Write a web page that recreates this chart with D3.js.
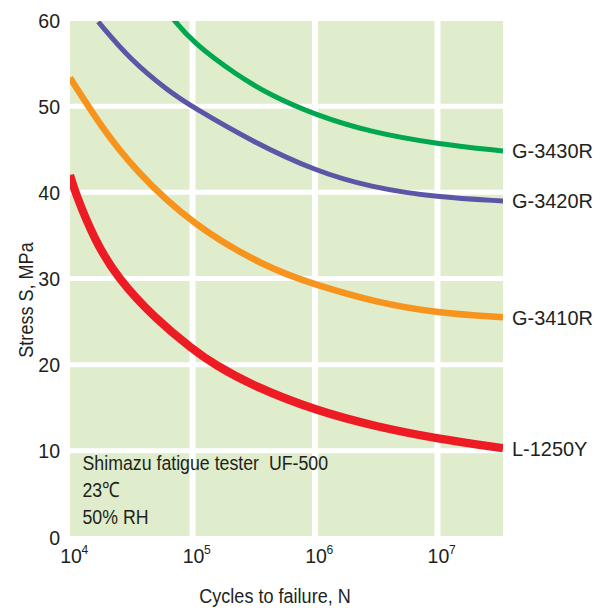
<!DOCTYPE html>
<html>
<head>
<meta charset="utf-8">
<title>Fatigue S-N curves</title>
<script src="https://cdn.jsdelivr.net/npm/d3@7"></script>
<style>
  body { margin: 0; background: #fff; }
  svg text { font-family: "Liberation Sans", Arial, sans-serif; fill: #231f20; }
</style>
</head>
<body>
<div id="chart"></div>
<script>
// cycles to failure (N) and stress (MPa)
const series = ["G-3430R", "G-3420R", "G-3410R", "L-1250Y"];
const colors = ["#00a650", "#5b57a6", "#f7941d", "#ed1c24"];
const widths = [5, 5, 6.5, 8.3];

const cyclesG3430 = [6.8e4, 1e5, 2.3e5, 4.3e5, 1e6, 2.8e6, 1e7, 3.43e7];
const stressG3430 = [60.3, 57.4, 53.6, 51.3, 49.0, 47.0, 45.6, 44.8];
const cyclesG3420 = [1.7e4, 3.1e4, 6.3e4, 1e5, 3.16e5, 1e6, 2.8e6, 1e7, 3.43e7];
const stressG3420 = [59.8, 55.4, 51.8, 49.9, 45.8, 42.5, 40.6, 39.4, 39.0];
const cyclesG3410 = [1e4, 1.8e4, 3.37e4, 1e5, 4.1e5, 1e6, 3.2e6, 1e7, 3.43e7];
const stressG3410 = [53.3, 47.6, 42.6, 36.2, 31.2, 29.3, 27.2, 26.0, 25.5];
const cyclesL1250 = [1e4, 1.1e4, 1.58e4, 2.45e4, 5.0e4, 1e5, 1.51e5, 3.16e5, 1e6, 3.16e6, 1e7, 3.43e7];
const stressL1250 = [42.0, 40.0, 34.5, 30.0, 25.3, 21.8, 20.0, 17.5, 14.7, 12.8, 11.4, 10.3];

const xTicks = [1e4, 1e5, 1e6, 1e7];
const yTicks = [0, 10, 20, 30, 40, 50, 60];
const notes = ["Shimazu fatigue tester\u00a0\u00a0UF-500", "23\u2103", "50% RH"];

const cycles = [cyclesG3430, cyclesG3420, cyclesG3410, cyclesL1250];
const stress = [stressG3430, stressG3420, stressG3410, stressL1250];

const W = 607, H = 608;
const svg = d3.select("#chart").append("svg")
  .attr("width", W).attr("height", H);

const x = d3.scaleLog().domain([1e4, Math.pow(10, 7.535)]).range([70, 503]);
const y = d3.scaleLinear().domain([0, 60]).range([537, 20]);

const [x0, x1] = x.range();
const yTop = 21, yBot = 536;

// condensed look: Liberation Sans squeezed sideways
function label(g, px, py, str, sx, anchor) {
  return g.append("text")
    .attr("transform", `translate(${px},${py}) scale(${sx},1)`)
    .attr("text-anchor", anchor || "start")
    .style("font-size", "21px")
    .text(str);
}

svg.append("defs").append("clipPath").attr("id", "plot")
  .append("rect").attr("x", x0).attr("y", yTop)
  .attr("width", x1 - x0).attr("height", yBot - yTop);

svg.append("rect")
  .attr("x", x0).attr("y", yTop)
  .attr("width", x1 - x0).attr("height", yBot - yTop)
  .attr("fill", "#dfedcc");

// white grid
const grid = svg.append("g").attr("clip-path", "url(#plot)");
grid.selectAll("line.h").data(yTicks.slice(1, -1)).join("line")
  .attr("x1", x0).attr("x2", x1)
  .attr("y1", d => y(d)).attr("y2", d => y(d))
  .attr("stroke", "#fff").attr("stroke-width", 5);
grid.selectAll("line.v").data(xTicks.slice(1)).join("line")
  .attr("y1", yTop).attr("y2", yBot)
  .attr("x1", d => x(d)).attr("x2", d => x(d))
  .attr("stroke", "#fff").attr("stroke-width", 6);

// curves
const line = d3.line()
  .x(d => x(d[0])).y(d => y(d[1]))
  .curve(d3.curveBasis);

const curves = svg.append("g").attr("clip-path", "url(#plot)");
series.forEach((name, i) => {
  const pts = cycles[i].map((c, j) => [c, stress[i][j]]);
  curves.append("path")
    .attr("d", line(pts))
    .attr("fill", "none")
    .attr("stroke", colors[i])
    .attr("stroke-width", widths[i]);
  const last = pts[pts.length - 1];
  label(svg, x1 + 9, y(last[1]) + 7.5, name, 0.95);
});

// y axis
const yAxis = svg.append("g")
  .attr("transform", `translate(${x0 - 10},0)`)
  .call(d3.axisLeft(y).tickValues(yTicks).tickSize(0).tickPadding(0));
yAxis.select(".domain").remove();
yAxis.selectAll(".tick text").remove();
yAxis.selectAll(".tick").each(function(d) {
  label(d3.select(this), 0, 7, d, 0.93, "end");
});

// x axis with powers of ten
const xAxis = svg.append("g")
  .attr("transform", `translate(0,${yBot})`)
  .call(d3.axisBottom(x).tickValues(xTicks).tickSize(0).tickPadding(0));
xAxis.select(".domain").remove();
xAxis.selectAll(".tick text").remove();
xAxis.selectAll(".tick").each(function(d) {
  const g = d3.select(this);
  label(g, 0.5, 26.5, "10", 0.93, "middle");
  label(g, 11, 17.5, Math.round(Math.log10(d)), 0.93)
    .style("font-size", "13px");
});

label(svg, 275, 602.5, "Cycles to failure, N", 0.86, "middle");

svg.append("text")
  .attr("transform", "translate(25,300) rotate(-90) scale(0.86,1)")
  .attr("dy", "0.36em")
  .attr("text-anchor", "middle")
  .style("font-size", "21px")
  .text("Stress S, MPa");

// test conditions
const noteG = svg.append("g");
notes.forEach((t, i) => label(noteG, 82.5, 469.5 + i * 27.3, t, 0.845));
</script>
</body>
</html>
